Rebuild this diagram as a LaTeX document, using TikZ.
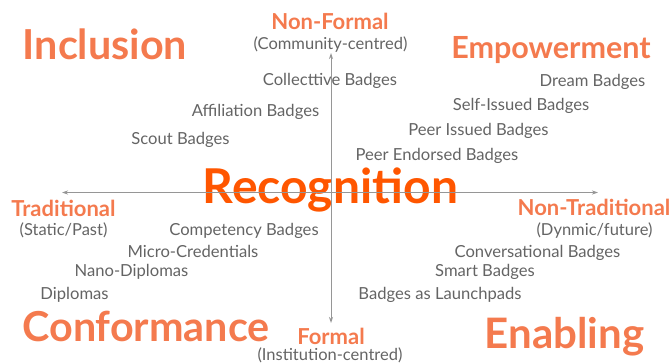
\documentclass[tikz,border=0pt]{standalone}
\usepackage{fontspec}
\setmainfont{Lato}
\usepackage{tikz}
\usetikzlibrary{arrows.meta}
\definecolor{quadorange}{RGB}{244,122,78}
\definecolor{centreorange}{RGB}{255,86,0}
\definecolor{badgegray}{RGB}{100,100,100}
\definecolor{axisgray}{RGB}{150,150,150}

\begin{document}
\begin{tikzpicture}[x=1pt,y=-1pt,
        every node/.style={inner sep=0pt,anchor=base},
        quadrant/.style={text=quadorange,font=\fontsize{41.3}{45}\selectfont\bfseries},
        centreword/.style={text=centreorange,font=\fontsize{48}{52}\selectfont\bfseries},
        axislabel/.style={text=quadorange,font=\fontsize{22}{26}\selectfont\bfseries},
        axisnote/.style={text=badgegray,font=\fontsize{16.5}{19}\selectfont},
        badge/.style={text=badgegray,font=\fontsize{16.6}{19}\selectfont},
        axis/.style={draw=axisgray,line width=1pt,{Stealth[length=6pt,width=4pt]}-{Stealth[length=6pt,width=4pt]}}]
        \useasboundingbox (0,0) rectangle (672,364);

        % quadrant names
        \node[quadrant] (inclusion) at (105,59) {Inclusion};
        \node[quadrant,font=\fontsize{30.5}{34}\selectfont\bfseries] (empowerment) at (551,58.5) {Empowerment};
        \node[quadrant] (conformance) at (146,341) {Conformance};
        \node[quadrant,font=\fontsize{42}{46}\selectfont\bfseries] (enabling) at (564.5,348) {Enabling};
        \node[centreword] (recognition) at (330.5,203) {Recognition};

        % axis ends
        \node[axislabel] (nonformal) at (330,29) {Non-Formal};
        \node[axisnote] (community) at (330.5,49) {(Community-centred)};
        \node[axislabel] (formal) at (331,344) {Formal};
        \node[axisnote] (institution) at (330,360) {(Institution-centred)};
        \node[axislabel] (traditional) at (63.5,216) {Traditional};
        \node[axisnote] (static) at (63.5,235) {(Static/Past)};
        \node[axislabel] (nontraditional) at (594,215) {Non-Traditional};
        \node[axisnote] (dynamic) at (594.5,235) {(Dynmic/future)};

        % badges, upper left
        \node[badge] (collective) at (330,85) {Collecttive Badges};
        \node[badge] (affiliation) at (255.5,116) {Affiliation Badges};
        \node[badge] (scout) at (180.5,144) {Scout Badges};
        % badges, upper right
        \node[badge] (dream) at (592.5,86) {Dream Badges};
        \node[badge] (selfissued) at (521,110) {Self-Issued Badges};
        \node[badge] (peerissued) at (478.5,135) {Peer Issued Badges};
        \node[badge] (peerendorsed) at (437,160) {Peer Endorsed Badges};
        % badges, lower left
        \node[badge] (competency) at (244,235) {Competency Badges};
        \node[badge] (micro) at (193,257) {Micro-Credentials};
        \node[badge] (nano) at (131.5,276) {Nano-Diplomas};
        \node[badge] (diplomas) at (74.5,299) {Diplomas};
        % badges, lower right
        \node[badge] (conversational) at (537.5,257) {Conversational Badges};
        \node[badge] (smart) at (485,276) {Smart Badges};
        \node[badge] (launchpads) at (440,299) {Badges as Launchpads};

        % axes
        \coordinate (west) at (62,192.5);
        \coordinate (east) at (598,192.5);
        \coordinate (north) at (331,53);
        \coordinate (south) at (331,323);
        \draw[axis] (west) -- (east);
        \draw[axis] (south) -- (north);
    \end{tikzpicture}
\end{document}
